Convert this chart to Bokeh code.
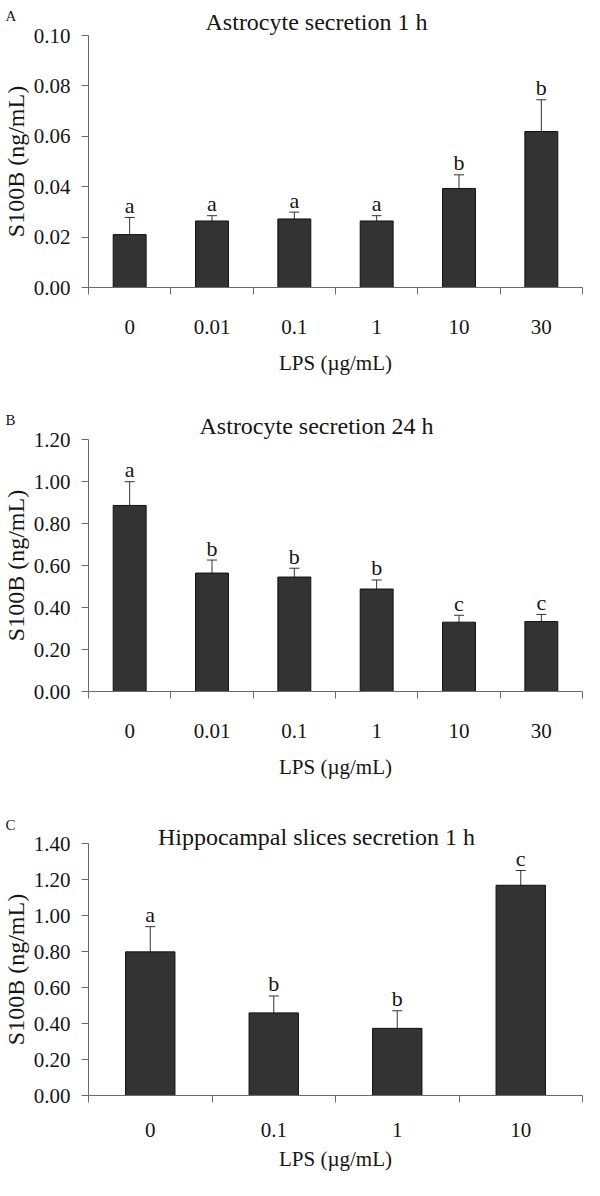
from bokeh.plotting import figure
from bokeh.layouts import column
from bokeh.models import (ColumnDataSource, Range1d, FixedTicker, Whisker, TeeHead,
                          PrintfTickFormatter)
from bokeh.core.properties import value
from bokeh.embed import file_html
from bokeh.resources import INLINE

# ---------------- data ----------------
a_labels = ["0", "0.01", "0.1", "1", "10", "30"]
a_means = [0.0210, 0.0264, 0.0272, 0.0264, 0.0393, 0.0619]
a_errs = [0.0068, 0.0021, 0.0027, 0.0021, 0.0054, 0.0126]
a_letters = ["a", "a", "a", "a", "b", "b"]
a_yticks = [0.0, 0.02, 0.04, 0.06, 0.08, 0.10]

b_labels = ["0", "0.01", "0.1", "1", "10", "30"]
b_means = [0.886, 0.564, 0.545, 0.488, 0.330, 0.333]
b_errs = [0.113, 0.062, 0.042, 0.043, 0.033, 0.034]
b_letters = ["a", "b", "b", "b", "c", "c"]
b_yticks = [0.0, 0.2, 0.4, 0.6, 0.8, 1.0, 1.2]

c_labels = ["0", "0.1", "1", "10"]
c_means = [0.798, 0.459, 0.373, 1.168]
c_errs = [0.140, 0.094, 0.098, 0.082]
c_letters = ["a", "b", "b", "c"]
c_yticks = [0.0, 0.2, 0.4, 0.6, 0.8, 1.0, 1.2, 1.4]

titles = ["Astrocyte secretion 1 h", "Astrocyte secretion 24 h",
          "Hippocampal slices secretion 1 h"]
panel_letters = ["A", "B", "C"]
x_title = "LPS (\u00b5g/mL)"
y_title = "S100B (ng/mL)"

FONT = "Liberation Serif"
AXIS_COLOR = "#6a6a6a"
BAR_COLOR = "#333333"
TEXT_COLOR = "#151515"
FIG_W = 584
AX_H = 252      # pixel height of the value axis
AX_W = 494      # pixel width of the category axis
LEFT = 88       # pixels left of the value axis
TOP = 35        # pixels above the value axis top


def make_panel(labels, means, errs, letters, yticks, title, letter,
               height, title_dy, letter_dy, tick_gap, label_gap):
    n = len(labels)
    ymax = yticks[-1]
    py = ymax / AX_H           # data units per pixel (y)
    px = n / AX_W              # data units per pixel (x)
    bottom = height - TOP - AX_H
    p = figure(width=FIG_W, height=height, output_backend="svg",
               toolbar_location=None,
               x_range=Range1d(-LEFT * px, n + (FIG_W - LEFT - AX_W) * px),
               y_range=Range1d(-bottom * py, ymax + TOP * py),
               min_border=0)
    p.frame_width = FIG_W
    p.frame_height = height
    p.grid.visible = False
    p.outline_line_color = None

    xs = [i + 0.5 for i in range(n)]
    src = ColumnDataSource(dict(
        x=xs, top=means,
        upper=[m + e for m, e in zip(means, errs)],
        lower=[m - e for m, e in zip(means, errs)],
        letter=letters))

    p.vbar(x="x", top="top", bottom=0, width=0.4, source=src,
           fill_color=BAR_COLOR, line_color="#111111", line_width=1)

    w = Whisker(base="x", upper="upper", lower="lower", source=src,
                line_color="#333333", line_width=1,
                upper_head=TeeHead(size=10, line_color="#333333", line_width=1),
                lower_head=TeeHead(size=10, line_color="#333333", line_width=1))
    p.add_layout(w)

    p.text(x="x", y="upper", text="letter", source=src,
           text_font=value(FONT), text_font_size="22px", text_color=TEXT_COLOR,
           text_align="center", text_baseline="alphabetic", y_offset=-12)

    # title and panel letter
    p.text(x=[228 * px], y=[ymax + title_dy * py], text=[title],
           text_font=value(FONT), text_font_size="24px", text_color=TEXT_COLOR,
           text_align="center", text_baseline="alphabetic")
    p.text(x=[-83 * px], y=[ymax + letter_dy * py], text=[letter],
           text_font=value(FONT), text_font_size="15px", text_color=TEXT_COLOR,
           text_align="left", text_baseline="alphabetic")

    # x axis: labels at centres, ticks at category boundaries
    xa = p.xaxis[0]
    xa.fixed_location = 0
    xa.bounds = (0, n)
    xa.ticker = FixedTicker(ticks=xs, minor_ticks=list(range(n + 1)))
    xa.major_label_overrides = {x: l for x, l in zip(xs, labels)}
    xa.major_tick_out = 0
    xa.major_tick_in = 0
    xa.minor_tick_out = 7
    xa.minor_tick_in = 0
    xa.minor_tick_line_color = AXIS_COLOR
    xa.axis_line_color = AXIS_COLOR
    xa.major_label_standoff = tick_gap
    xa.major_label_text_font = FONT
    xa.major_label_text_font_size = "21px"
    xa.major_label_text_color = TEXT_COLOR
    xa.axis_label = x_title
    xa.axis_label_text_font = FONT
    xa.axis_label_text_font_size = "21px"
    xa.axis_label_text_font_style = "normal"
    xa.axis_label_text_color = TEXT_COLOR
    xa.axis_label_standoff = label_gap

    ya = p.yaxis[0]
    ya.fixed_location = 0
    ya.bounds = (0, ymax)
    ya.ticker = FixedTicker(ticks=yticks, minor_ticks=[])
    ya.formatter = PrintfTickFormatter(format="%.2f")
    ya.major_tick_out = 7
    ya.major_tick_in = 0
    ya.major_tick_line_color = AXIS_COLOR
    ya.axis_line_color = AXIS_COLOR
    ya.major_label_standoff = 11
    ya.major_label_text_font = FONT
    ya.major_label_text_font_size = "21px"
    ya.major_label_text_color = TEXT_COLOR
    ya.axis_label = y_title
    ya.axis_label_text_font = FONT
    ya.axis_label_text_font_size = "24px"
    ya.axis_label_text_font_style = "normal"
    ya.axis_label_text_color = TEXT_COLOR
    ya.axis_label_standoff = 2
    return p


pA = make_panel(a_labels, a_means, a_errs, a_letters, a_yticks, titles[0],
                panel_letters[0], 404, 14, 20, 25, 14)
pB = make_panel(b_labels, b_means, b_errs, b_letters, b_yticks, titles[1],
                panel_letters[1], 404, 14, 20, 25, 14)
pC = make_panel(c_labels, c_means, c_errs, c_letters, c_yticks, titles[2],
                panel_letters[2], 372, 7, 19, 20, 7)

layout = column(pA, pB, pC, spacing=0)
open("out.html", "w").write(file_html(layout, INLINE))
